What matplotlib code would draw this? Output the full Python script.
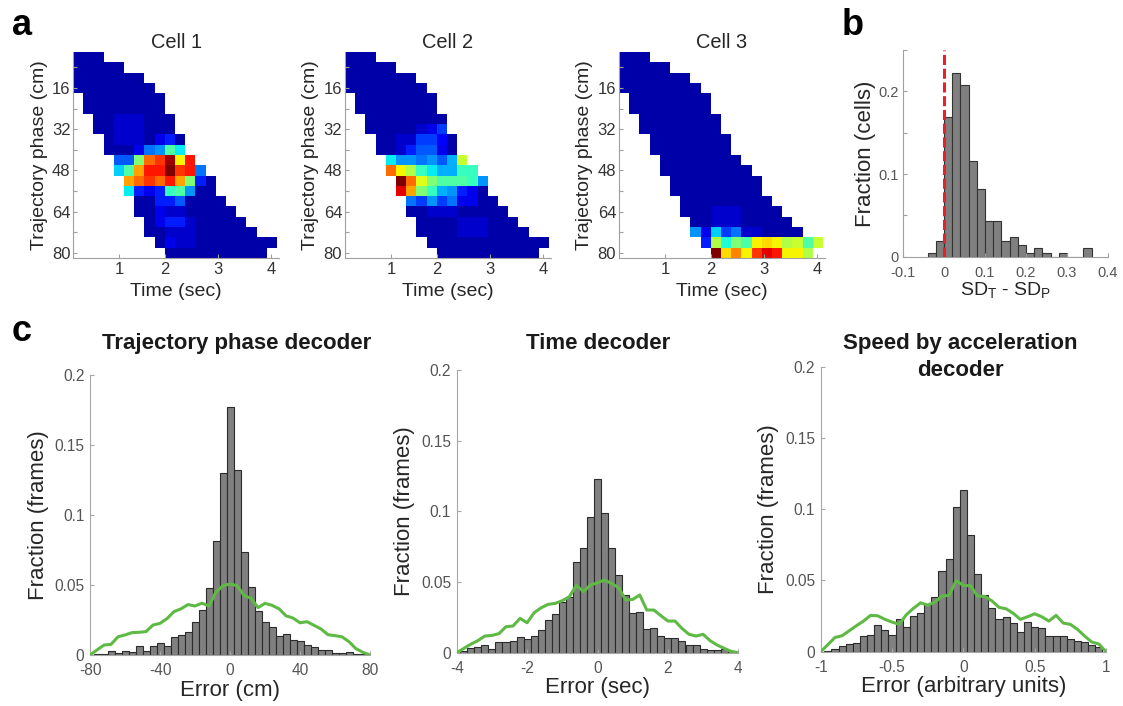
import numpy as np
import matplotlib
matplotlib.use("Agg")
import matplotlib.pyplot as plt

plt.rcParams['font.family'] = ['Liberation Sans', 'DejaVu Sans']
plt.rcParams['axes.unicode_minus'] = False
plt.rcParams['mathtext.fontset'] = 'custom'
plt.rcParams['mathtext.rm'] = 'Liberation Sans'
plt.rcParams['mathtext.it'] = 'Liberation Sans:italic'

# ---------------- panel a: rate maps (rows = 4 cm phase bins, cols = time bins)
# one character per bin, base-36 level 0..z -> 0..1 of the colour scale, '.' = not visited
cell1_rows = [
    "222.................",
    "22222...............",
    "2222222.............",
    "22222222............",
    ".22222222...........",
    ".22222222...........",
    "..22333222..........",
    "..22333222..........",
    "...23332462.........",
    "...22249agd.........",
    "....88isuynv........",
    "....cgqvvzuv9.......",
    ".....qsusvqi62......",
    ".....d646fga22......",
    "......226682222.....",
    "......2243322222....",
    ".......2466322222...",
    ".......22333222222..",
    "........243322222222",
    ".........2222222222.",
]
cell2_rows = [
    "222.................",
    "22222...............",
    "2222222.............",
    "22222222............",
    ".22222222...........",
    ".22222222...........",
    "..22222222..........",
    "..22222347..........",
    "...22337752.........",
    "...22368842.........",
    "....daa9a8bl........",
    "....snkfdbbff.......",
    ".....zsmigggfa......",
    ".....wqifba642......",
    "......97a794422.....",
    "......2233322222....",
    ".......2222333222...",
    ".......22223332222..",
    "........222222222222",
    ".........2222222222.",
]
cell3_rows = [
    "222.................",
    "22222...............",
    "2222222.............",
    "22222222............",
    ".22222222...........",
    ".22222222...........",
    "..22222222..........",
    "..22222222..........",
    "...22222222.........",
    "...22222222.........",
    "....22222222........",
    "....222222222.......",
    ".....222222222......",
    ".....222222222......",
    "......222222222.....",
    "......2223332222....",
    ".......2233322222...",
    ".......a4c79332222..",
    "........6keignonklgl",
    ".........zornuwvnnk.",
]
cell_names = ["Cell 1", "Cell 2", "Cell 3"]
phase_ticks = [8, 16, 24, 32, 40, 48, 56, 64, 72, 80]
phase_labels = ["", "16", "", "32", "", "48", "", "64", "", "80"]
time_tick_cols = [4.5, 9.0, 14.2, 19.4]
time_labels = ["1", "2", "3", "4"]

# ---------------- panel b: SD_T - SD_P across cells
sd_left = [-0.04, -0.02, 0.00, 0.02, 0.04, 0.06, 0.08, 0.10, 0.12, 0.14,
           0.16, 0.18, 0.20, 0.22, 0.24, 0.26, 0.28, 0.30, 0.32, 0.34]
sd_frac = [0.005, 0.019, 0.169, 0.222, 0.208, 0.116, 0.082, 0.043, 0.043, 0.019,
           0.024, 0.014, 0.005, 0.010, 0.005, 0.0, 0.005, 0.0, 0.0, 0.010]

# ---------------- panel c: decoding error distributions (bars) and shuffle (line)
phase_err_bars = [0.0005, 0.0007, 0.0031, 0.0017, 0.0026, 0.0019, 0.0062, 0.0026, 0.0062, 0.0083,
                  0.0067, 0.0126, 0.0143, 0.0167, 0.0238, 0.0319, 0.0479, 0.0817, 0.130, 0.177,
                  0.132, 0.0736, 0.0486, 0.0314, 0.0238, 0.0200, 0.0133, 0.0148, 0.0105, 0.0098,
                  0.0074, 0.0055, 0.0036, 0.0036, 0.0017, 0.0012, 0.0019, 0.0007, 0.0005]
phase_err_shuf = [0.0, 0.0036, 0.0071, 0.0076, 0.0130, 0.0143, 0.0160, 0.0162, 0.0167, 0.0214,
                  0.0226, 0.0260, 0.0310, 0.0330, 0.0360, 0.0350, 0.0370, 0.0350, 0.0450, 0.0495,
                  0.0507, 0.0495, 0.0426, 0.0405, 0.0338, 0.0369, 0.0355, 0.0330, 0.0280, 0.0264,
                  0.0230, 0.0238, 0.0212, 0.0186, 0.0145, 0.0138, 0.0130, 0.0095, 0.0045, 0.0019, 0.0]

time_err_bars = [0.0014, 0.0033, 0.0040, 0.0052, 0.0028, 0.0073, 0.0073, 0.0080, 0.0108, 0.0094,
                 0.0116, 0.0163, 0.0229, 0.0274, 0.0356, 0.0392, 0.0644, 0.0743, 0.0958, 0.123,
                 0.0986, 0.0738, 0.0547, 0.0408, 0.0278, 0.0285, 0.0165, 0.0172, 0.0118, 0.0101,
                 0.0101, 0.0080, 0.0052, 0.0052, 0.0024, 0.0019, 0.0021, 0.0024, 0.0009]
time_err_shuf = [0.0, 0.0030, 0.0060, 0.0085, 0.0118, 0.0122, 0.0135, 0.0184, 0.0189, 0.0243,
                 0.0212, 0.0283, 0.0318, 0.0342, 0.0349, 0.0368, 0.0396, 0.0476, 0.0432, 0.0479,
                 0.0495, 0.0514, 0.0490, 0.0460, 0.0373, 0.0377, 0.0408, 0.0302, 0.0302, 0.0262,
                 0.0224, 0.0224, 0.0172, 0.0130, 0.0118, 0.0130, 0.0085, 0.0054, 0.0031, 0.0009, 0.0]

speed_err_bars = [0.0007, 0.0016, 0.0037, 0.0054, 0.0058, 0.0107, 0.0114, 0.0187, 0.0154, 0.0114,
                  0.0231, 0.0175, 0.0252, 0.0269, 0.0332, 0.0381, 0.0565, 0.0654, 0.1012, 0.1136,
                  0.0822, 0.0542, 0.0397, 0.0304, 0.0231, 0.0245, 0.0199, 0.0136, 0.0210, 0.0171,
                  0.0164, 0.0107, 0.0110, 0.0107, 0.0086, 0.0072, 0.0065, 0.0044, 0.0030]
speed_err_shuf = [0.0, 0.0049, 0.0100, 0.0112, 0.0147, 0.0182, 0.0215, 0.0255, 0.0252, 0.0227,
                  0.0208, 0.0192, 0.0259, 0.0304, 0.0343, 0.0327, 0.0348, 0.0390, 0.0395, 0.0498,
                  0.0465, 0.0463, 0.0390, 0.0388, 0.0357, 0.0311, 0.0301, 0.0269, 0.0227, 0.0245,
                  0.0266, 0.0245, 0.0215, 0.0255, 0.0201, 0.0192, 0.0157, 0.0110, 0.0068, 0.0054, 0.0]

decoders = [
    dict(title=["Trajectory phase decoder"], xlabel="Error (cm)", lim=80, bars=phase_err_bars,
         shuf=phase_err_shuf, xticks=[-80, -40, 0, 40, 80], xlabels=["-80", "-40", "0", "40", "80"]),
    dict(title=["Time decoder"], xlabel="Error (sec)", lim=4, bars=time_err_bars,
         shuf=time_err_shuf, xticks=[-4, -2, 0, 2, 4], xlabels=["-4", "-2", "0", "2", "4"]),
    dict(title=["Speed by acceleration", "decoder"], xlabel="Error (arbitrary units)", lim=1,
         bars=speed_err_bars, shuf=speed_err_shuf, xticks=[-1, -0.5, 0, 0.5, 1],
         xlabels=["-1", "-0.5", "0", "0.5", "1"]),
]
frac_ticks = [0, 0.05, 0.1, 0.15, 0.2]
frac_labels = ["0", "0.05", "0.1", "0.15", "0.2"]

W, H = 1123, 706
fig = plt.figure(figsize=(W / 100, H / 100), dpi=100)


def px_axes(l, t, r, b):
    return fig.add_axes([l / W, 1 - b / H, (r - l) / W, (b - t) / H])


def style(ax, spine_col, label_col, size, pad):
    for s in ["top", "right"]:
        ax.spines[s].set_visible(False)
    for s in ["left", "bottom"]:
        ax.spines[s].set_color(spine_col)
        ax.spines[s].set_linewidth(0.8)
    ax.tick_params(direction="in", length=3, width=0.8, color=spine_col,
                   labelcolor=label_col, labelsize=size, pad=pad)


def decode(rows):
    return np.array([[np.nan if ch == "." else int(ch, 36) / 35 for ch in r] for r in rows])


dark = "#262626"

# rate maps
heat_boxes = [(73.3, 52, 279.3, 258), (345, 52, 551, 258), (619, 52, 825, 258)]
for box, rows, name in zip(heat_boxes, [cell1_rows, cell2_rows, cell3_rows], cell_names):
    ax = px_axes(*box)
    grid = np.ma.masked_invalid(decode(rows))
    ax.imshow(grid, cmap="jet", vmin=0.02, vmax=1, extent=[0, 20, 82, 2],
              aspect="auto", interpolation="nearest")
    ax.set_xlim(0, 20.2)
    ax.set_ylim(82, 2)
    style(ax, "#a0a0a0", "#333333", 12, 2)
    ax.tick_params(axis="x", pad=3)
    ax.set_yticks(phase_ticks)
    ax.set_yticklabels(phase_labels)
    ax.set_xticks(time_tick_cols)
    ax.set_xticklabels(time_labels)
    ax.set_title(name, fontsize=14.4, color=dark, pad=3)
    ax.set_ylabel("Trajectory phase (cm)", fontsize=14, color=dark, labelpad=3)
    ax.set_xlabel("Time (sec)", fontsize=14, color=dark, labelpad=4.5)

# SD_T - SD_P histogram
axb = px_axes(903, 50, 1108, 256.7)
sd_centers = np.array(sd_left) + 0.01
axb.bar(sd_centers, sd_frac, width=0.02, color="#808080", edgecolor="#333333", linewidth=0.8)
axb.axvline(0, color="#e8202a", lw=2.2, ls=(0, (3.3, 1.2)), zorder=5)
axb.set_xlim(-0.1, 0.4)
axb.set_ylim(0, 0.25)
style(axb, "#a0a0a0", "#555555", 10.5, 3)
axb.tick_params(axis="x", pad=6.5)
axb.set_xticks([-0.1, 0, 0.1, 0.2, 0.3, 0.4])
axb.set_xticklabels(["-0.1", "0", "0.1", "0.2", "0.3", "0.4"])
axb.set_yticks([0, 0.05, 0.1, 0.15, 0.2, 0.25])
axb.set_yticklabels(["0", "", "0.1", "", "0.2", ""])
axb.set_ylabel("Fraction (cells)", fontsize=16, color=dark, labelpad=2)
axb.set_xlabel(r"SD$_\mathrm{T}$ - SD$_\mathrm{P}$", fontsize=14, color=dark, labelpad=0)

# decoder error histograms
c_boxes = [(90, 375, 370, 655), (456.7, 370, 738.3, 652.7), (820.7, 366.7, 1106, 651.7)]
title_x = [237, 598, 960.7]
for box, d, tx in zip(c_boxes, decoders, title_x):
    ax = px_axes(*box)
    lim = d["lim"]
    step = lim / 20.0
    centers = np.linspace(-lim + step, lim - step, len(d["bars"]))
    ax.bar(centers, d["bars"], width=step, color="#808080", edgecolor="#2b2b2b", linewidth=0.8)
    ax.plot(np.linspace(-lim, lim, len(d["shuf"])), d["shuf"], color="#5fba45", lw=2.2, zorder=4)
    ax.set_xlim(-lim, lim)
    ax.set_ylim(0, 0.2)
    style(ax, "#a6a6a6", "#555555", 11.2, 4)
    ax.tick_params(axis="x", pad=6)
    ax.set_xticks(d["xticks"])
    ax.set_xticklabels(d["xlabels"])
    ax.set_yticks(frac_ticks)
    ax.set_yticklabels(frac_labels)
    ax.set_ylabel("Fraction (frames)", fontsize=16, color=dark, labelpad=4)
    ax.set_xlabel(d["xlabel"], fontsize=16, color=dark, labelpad=1)
    for i, line in enumerate(d["title"]):
        fig.text(tx / W, 1 - (348.5 + 27 * i) / H, line, ha="center", va="baseline",
                 fontsize=16, fontweight="bold", color="#1a1a1a")

# panel letters
for letter, x, y in [("a", 12, 35), ("b", 842, 35), ("c", 12, 341)]:
    fig.text(x / W, 1 - y / H, letter, fontsize=26, fontweight="bold", va="baseline", ha="left")

fig.savefig("out.png", dpi=100)
